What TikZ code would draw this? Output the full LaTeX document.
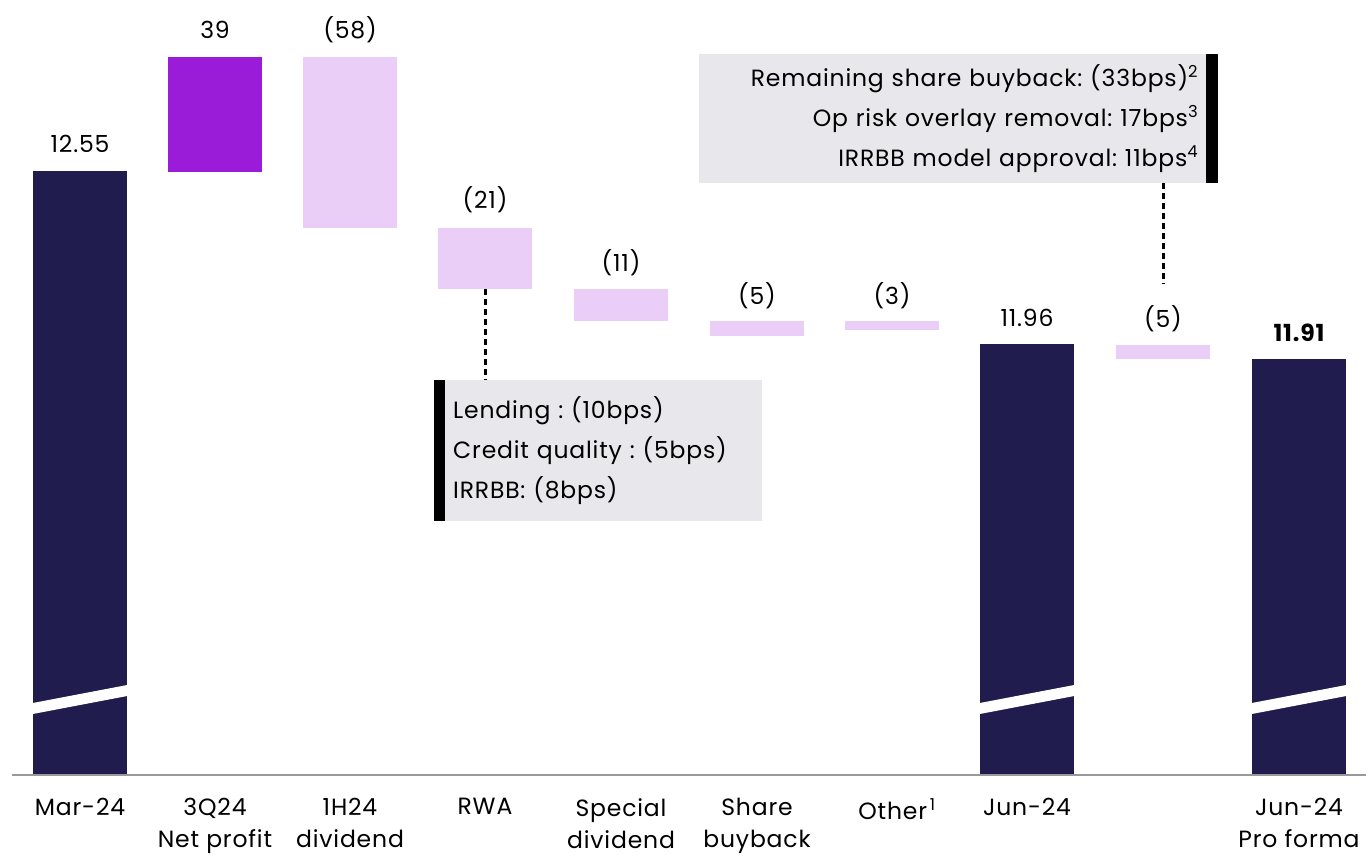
\documentclass[tikz,border=0pt]{standalone}
\usepackage{fontspec}
\setmainfont{Poppins}[LetterSpace=3.5]
\usepackage{xcolor}
\usetikzlibrary{calc, positioning}

\definecolor{navy}{HTML}{201C4E}
\definecolor{grape}{HTML}{9B1CD8}
\definecolor{lilac}{HTML}{EBCEF7}
\definecolor{notegray}{HTML}{E8E8EC}

\tikzset{
    bar/.style={inner sep=0pt, minimum width=94pt},
    val/.style={font=\fontsize{23.5}{27}\selectfont},
    cat/.style={font=\fontsize{23.5}{32}\selectfont, align=center, anchor=north, inner ysep=1pt},
    notebox/.style={fill=notegray, font=\fontsize{23.5}{40}\selectfont, inner ysep=0pt},
    link/.style={line width=3pt, dash pattern=on 6pt off 4pt}
}

\begin{document}
\frenchspacing
\begin{tikzpicture}[x=1pt, y=-1pt]
                    \useasboundingbox (0,0) rectangle (1368,856);

                    % bars: name / centre x / top / bottom / colour
                    \foreach \n/\x/\t/\b/\c in {mar/80/171/775/navy, np/215/57/172/grape,
                        div/350/57/228/lilac, rwa/485/228/289/lilac, spec/621/289/321/lilac,
                        sbb/757/321/336/lilac, oth/892/321/330/lilac, jun/1027/344/775/navy,
                        adj/1163/345/359/lilac, pf/1299/359/775/navy} {
                        \node[bar, fill=\c, minimum height={(\b-\t)*1pt}] (\n) at (\x, {(\t+\b)/2}) {};
                    }

                    % axis breaks
                    \foreach \n in {mar, jun, pf} {
                        \fill[white] ($(\n.west |- 0,703)$) -- ($(\n.east |- 0,685)$)
                            -- ($(\n.east |- 0,696)$) -- ($(\n.west |- 0,714)$) -- cycle;
                    }

                    \draw[gray!80, line width=1.5pt] (12,775) -- (1366,775);

                    % values
                    \node[val] (mar-v) at (80,144) {12.55};
                    \node[val] (np-v) at (215,30) {39};
                    \node[val] (div-v) at (350,30) {(58)};
                    \node[val] (rwa-v) at (485,200) {(21)};
                    \node[val] (spec-v) at (621,263) {(11)};
                    \node[val] (sbb-v) at (757,296) {(5)};
                    \node[val] (oth-v) at (892,296) {(3)};
                    \node[val] (jun-v) at (1027,318) {11.96};
                    \node[val] (adj-v) at (1163,319) {(5)};
                    \node[val, font=\fontsize{23.5}{27}\selectfont\bfseries] (pf-v) at (1299,333) {11.91};

                    % categories
                    \node[cat] (mar-c) at (80,797) {Mar-24};
                    \node[cat] (np-c) at (215,797) {3Q24\\Net profit};
                    \node[cat] (div-c) at (350,797) {1H24\\dividend};
                    \node[cat] (rwa-c) at (485,797) {RWA};
                    \node[cat] (spec-c) at (621,797) {Special\\dividend};
                    \node[cat] (sbb-c) at (757,797) {Share\\buyback};
                    \node[cat] (oth-c) at (897,797) {Other\textsuperscript{\,1}};
                    \node[cat] (jun-c) at (1027,797) {Jun-24};
                    \node[cat] (pf-c) at (1299,797) {Jun-24\\Pro forma};

                    % notes
                    \node[notebox, anchor=north west, minimum height=141pt, inner xsep=19pt,
                        text width=290pt, align=left] (rwa-note) at (434,380)
                        {Lending : (10bps)\\Credit quality : (5bps)\\IRRBB: (8bps)};
                    \fill (rwa-note.north west) rectangle ([xshift=11pt]rwa-note.south west);

                    \node[notebox, anchor=north west, minimum height=129pt, inner xsep=20pt,
                        text width=479pt, align=right] (adj-note) at (699,54)
                        {Remaining share buyback: (33bps)\textsuperscript{2}\\Op risk overlay removal: 17bps\textsuperscript{3}\\IRRBB model approval: 11bps\textsuperscript{4}};
                    \fill (adj-note.north east) rectangle ([xshift=-12pt]adj-note.south east);

                    \coordinate (adj-tip) at ($(adj-v.north)+(0,-18)$);
                    \draw[link] (rwa.south) -- (rwa.south |- rwa-note.north);
                    \draw[link] (adj-tip |- adj-note.south) -- (adj-tip);
                \end{tikzpicture}
\end{document}
